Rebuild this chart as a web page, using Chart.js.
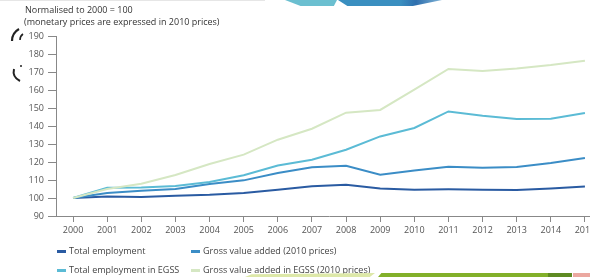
<!DOCTYPE html>
<html>
<head>
<meta charset="utf-8">
<script src="https://cdn.jsdelivr.net/npm/chart.js@4/dist/chart.umd.min.js"></script>
<style>
  html, body { margin:0; padding:0; width:590px; height:277px; overflow:hidden; background:#fff; }
  body { position:relative; font-family:"Open Sans", sans-serif; color:#444; }
  #wrap { position:absolute; left:0; top:0; width:602px; height:277px; }
  .t { position:absolute; font-size:9px; white-space:nowrap; line-height:11px; color:#333; }
  .lg { position:absolute; font-size:9px; white-space:nowrap; line-height:11px; color:#444; }
  .lg i { position:absolute; left:0; top:5px; width:9px; height:2.5px; }
  .lg span { position:absolute; left:12px; top:0; }
  .band { position:absolute; }
</style>
</head>
<body>
<div id="wrap"><canvas id="c" width="602" height="277"></canvas></div>
<div class="t" style="left:25px; top:4px;">Normalised to 2000 = 100</div>
<div class="t" style="left:24px; top:16px;">(monetary prices are expressed in 2010 prices)</div>
<div id="legend"></div>
<!-- decorative bands -->
<div class="band" style="left:0; top:0; width:265px; height:1px; background:#e6e6e6;"></div>
<div class="band" style="left:285px; top:0; width:52px; height:6px; background:#6bbfd0; clip-path:polygon(0 0,100% 0,94% 100%,30% 100%);"></div>
<div class="band" style="left:338px; top:0; width:104px; height:6px; background:linear-gradient(90deg,#3a8fc0,#3a8fc0 60%,#2f6fae 75%,#7fb3d6); clip-path:polygon(0 0,100% 0,72% 100%,9% 100%);"></div>
<div class="band" style="left:245px; top:273px; width:130px; height:4px; background:#dde8a8; clip-path:polygon(0 100%,5% 30%,100% 0,96% 100%);"></div>
<div class="band" style="left:378px; top:273px; width:170px; height:4px; background:#82b02a; clip-path:polygon(2% 0,100% 0,100% 100%,0 100%);"></div>
<div class="band" style="left:548px; top:273px; width:24px; height:4px; background:#5e8a22;"></div>
<div class="band" style="left:573px; top:273px; width:17px; height:4px; background:#eba8a0;"></div>
<svg style="position:absolute;left:0;top:0" width="30" height="90">
  <path d="M19 29 Q12 33 12 41" stroke="#222" stroke-width="2.2" fill="none"/>
  <path d="M23 34 Q20 36 20 40" stroke="#222" stroke-width="1.6" fill="none"/>
  <path d="M14 69 Q12 77 20 81" stroke="#222" stroke-width="2" fill="none"/>
  <circle cx="21" cy="66" r="1" fill="#222"/>
</svg>
<script>
const years = ["2000","2001","2002","2003","2004","2005","2006","2007","2008","2009","2010","2011","2012","2013","2014","2015"];
const totalEmployment = [100,100.9,100.5,101.3,101.8,102.8,104.6,106.5,107.4,105.3,104.6,104.8,104.6,104.4,105.3,106.4];
const grossValueAdded = [100,102.8,104,105,107.8,109.8,113.9,117.1,117.9,112.9,115.3,117.4,116.8,117.2,119.4,122.2];
const employmentEGSS = [100,105.7,105.9,106.7,108.9,112.6,118,121.3,126.8,134.2,138.9,148.1,145.7,143.9,144,147.2];
const gvaEGSS = [100,105,107.9,112.8,118.9,124.1,132.4,138.5,147.4,148.9,160.2,171.7,170.6,172,173.9,176.3];
const seriesNames = ["Total employment","Gross value added (2010 prices)","Total employment in EGSS","Gross value added in EGSS (2010 prices)"];
const yTicks = [90,100,110,120,130,140,150,160,170,180,190];

const colors = ["#2a5ba2","#3b8dc6","#5bbbd5","#d5e7c3"];
const seriesData = [totalEmployment, grossValueAdded, employmentEGSS, gvaEGSS];
const order = [3,2,1,0];

const datasets = order.map(i => ({
  label: seriesNames[i], data: seriesData[i], borderColor: colors[i], backgroundColor: colors[i],
  borderWidth: 2, pointRadius: 0, tension: 0, fill: false
}));

const font = { family: "'Open Sans', sans-serif", size: 9 };
new Chart(document.getElementById('c'), {
  type: 'line',
  data: { labels: years, datasets },
  options: {
    responsive: false, animation: false,
    layout: { padding: { top: 36, bottom: 37, left: 0, right: 0 } },
    plugins: { legend: { display: false }, tooltip: { enabled: false } },
    scales: {
      x: {
        offset: true,
        grid: { display: true, offset: false, drawOnChartArea: false, tickLength: 6, color: '#888', tickColor: '#888' },
        border: { color: '#888', width: 1 },
        ticks: { color: '#555', font, padding: 3, maxRotation: 0, autoSkip: false },
        afterFit: s => { s.height = 24; }
      },
      y: {
        min: 90, max: 190,
        afterBuildTicks: s => { s.ticks = yTicks.map(v => ({ value: v })); },
        grid: { display: true, drawOnChartArea: false, tickLength: 8, color: '#888', tickColor: '#888' },
        border: { color: '#888', width: 1 },
        ticks: { color: '#555', font, padding: 4 },
        afterFit: s => { s.width = 56; }
      }
    }
  }
});

const lg = document.getElementById('legend');
const pos = [[57,245],[191,245],[57,264],[191,264]];
seriesNames.forEach((n, i) => {
  const d = document.createElement('div');
  d.className = 'lg';
  d.style.left = pos[i][0] + 'px'; d.style.top = pos[i][1] + 'px';
  d.innerHTML = '<i style="background:' + colors[i] + '"></i><span>' + n + '</span>';
  lg.appendChild(d);
});
</script>
</body>
</html>
